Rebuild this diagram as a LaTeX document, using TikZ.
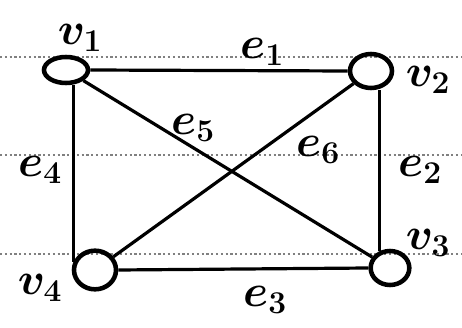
\documentclass[tikz,border=0pt]{standalone}
\usepackage{fix-cm}
\usetikzlibrary{shapes.geometric}
\begin{document}
\begin{tikzpicture}[x=0.75pt,y=-0.75pt,
  vert/.style={draw, ellipse, line width=3.4pt, inner sep=0pt},
  edge/.style={line width=2.4pt},
  guide/.style={black!50, dotted, line width=1.6pt},
  lbl/.style={font=\fontsize{34}{36}\selectfont\boldmath, inner sep=0pt}]
\useasboundingbox (0,0) rectangle (462,328);
\fill[white] (0,0) rectangle (462,328);
% dotted ruling lines
\draw[guide] (0,57) -- (462,57);
\draw[guide] (0,155) -- (462,155);
\draw[guide] (0,254) -- (462,254);
% vertices
\node[vert, minimum width=33pt, minimum height=19.5pt] (v1) at (66,70) {};
\node[vert, minimum width=31.5pt, minimum height=25.5pt] (v2) at (371,71) {};
\node[vert, minimum width=29pt, minimum height=25.5pt] (v3) at (390,268) {};
\node[vert, minimum width=31.5pt, minimum height=29pt] (v4) at (95,270) {};
% edges
\draw[edge] (v1.east) -- (v2.west);
\draw[edge] (v4.160 |- v1.south) -- (v4.160);
\draw[edge] (v3.122 |- v2.south) -- (v3.122);
\draw[edge] (v4.east) -- (v3.west);
\draw[edge] (v1) -- (v3);
\draw[edge] (v2) -- (v4);
% labels
\node[lbl] (l1) at (80,38) {$v_1$};
\node[lbl] (l2) at (428,80) {$v_2$};
\node[lbl] (l3) at (428,243) {$v_3$};
\node[lbl] (l4) at (40,288) {$v_4$};
\node[lbl] (le1) at (262,52) {$e_1$};
\node[lbl] (le2) at (420,170) {$e_2$};
\node[lbl] (le3) at (265,300) {$e_3$};
\node[lbl] (le4) at (40,170) {$e_4$};
\node[lbl] (le5) at (193,128) {$e_5$};
\node[lbl] (le6) at (318,150) {$e_6$};
\end{tikzpicture}
\end{document}
